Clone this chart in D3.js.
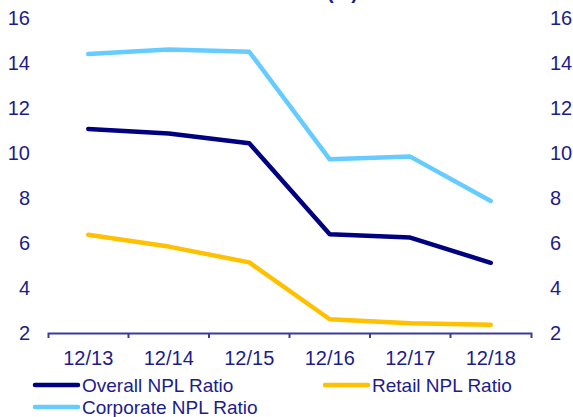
<!DOCTYPE html>
<html>
<head>
<meta charset="utf-8">
<script src="https://cdn.jsdelivr.net/npm/d3@7"></script>
<style>
  body { margin: 0; background: #fff; }
  svg { display: block; font-family: "Liberation Sans", Arial, sans-serif; }
</style>
</head>
<body>
<svg id="chart" width="573" height="417"></svg>
<script>
const categories = ["12/13", "12/14", "12/15", "12/16", "12/17", "12/18"];
const overall = [11.07, 10.87, 10.43, 6.39, 6.24, 5.12];
const retail = [6.37, 5.84, 5.14, 2.61, 2.43, 2.37];
const corporate = [14.4, 14.6, 14.5, 9.72, 9.84, 7.87];
const yTicks = [2, 4, 6, 8, 10, 12, 14, 16];

const textColor = "#1c1c8a";
const axisColor = "#3b3b9b";

const series = [
  { name: "Overall NPL Ratio", values: overall, color: "#000080" },
  { name: "Retail NPL Ratio", values: retail, color: "#ffc000" },
  { name: "Corporate NPL Ratio", values: corporate, color: "#66ccff" }
];

const svg = d3.select("#chart");

const x = d3.scaleBand().domain(categories).range([48, 531]).padding(0);
const y = d3.scaleLinear().domain([2, 16]).range([333, 18]);

// title (mostly cut off above the frame)
svg.append("text")
  .attr("x", 358)
  .attr("y", -1)
  .attr("text-anchor", "end")
  .attr("fill", textColor)
  .attr("font-size", 20)
  .attr("font-weight", "bold")
  .text("(%)");

// x axis
const xAxis = svg.append("g")
  .attr("transform", "translate(0,333)")
  .call(d3.axisBottom(x).tickSizeInner(0).tickSizeOuter(5).tickPadding(18));
xAxis.select(".domain").attr("stroke", axisColor).attr("stroke-width", 2);
xAxis.selectAll("text").attr("fill", textColor).attr("font-size", 20);

// boundary ticks between categories
xAxis.selectAll(".bound")
  .data(categories.slice(1))
  .enter()
  .append("line")
  .attr("class", "bound")
  .attr("x1", d => x(d))
  .attr("x2", d => x(d))
  .attr("y1", 0)
  .attr("y2", 5)
  .attr("stroke", axisColor)
  .attr("stroke-width", 2);

// y axes (left + right)
const yLeft = svg.append("g")
  .attr("transform", "translate(30,0)")
  .call(d3.axisLeft(y).tickValues(yTicks).tickSize(0).tickPadding(0));
const yRight = svg.append("g")
  .attr("transform", "translate(550,0)")
  .call(d3.axisRight(y).tickValues(yTicks).tickSize(0).tickPadding(0));
[yLeft, yRight].forEach(g => {
  g.select(".domain").remove();
  g.selectAll("text").attr("fill", textColor).attr("font-size", 20);
});

// lines
const line = d3.line()
  .x((d, i) => x(categories[i]) + x.bandwidth() / 2)
  .y(d => y(d));

series.forEach(s => {
  svg.append("path")
    .datum(s.values)
    .attr("fill", "none")
    .attr("stroke", s.color)
    .attr("stroke-width", 4.5)
    .attr("stroke-linejoin", "round")
    .attr("stroke-linecap", "round")
    .attr("d", line);
});

// legend
const legendPos = [
  { x: 35, y: 385 },
  { x: 325, y: 385 },
  { x: 35, y: 407 }
];
series.forEach((s, i) => {
  const p = legendPos[i];
  const g = svg.append("g").attr("transform", `translate(${p.x},${p.y})`);
  g.append("line")
    .attr("x1", 0).attr("x2", 43)
    .attr("y1", 0).attr("y2", 0)
    .attr("stroke", s.color)
    .attr("stroke-width", 4.5)
    .attr("stroke-linecap", "round");
  g.append("text")
    .attr("x", 47)
    .attr("y", 7)
    .attr("fill", textColor)
    .attr("font-size", 19)
    .text(s.name);
});
</script>
</body>
</html>
